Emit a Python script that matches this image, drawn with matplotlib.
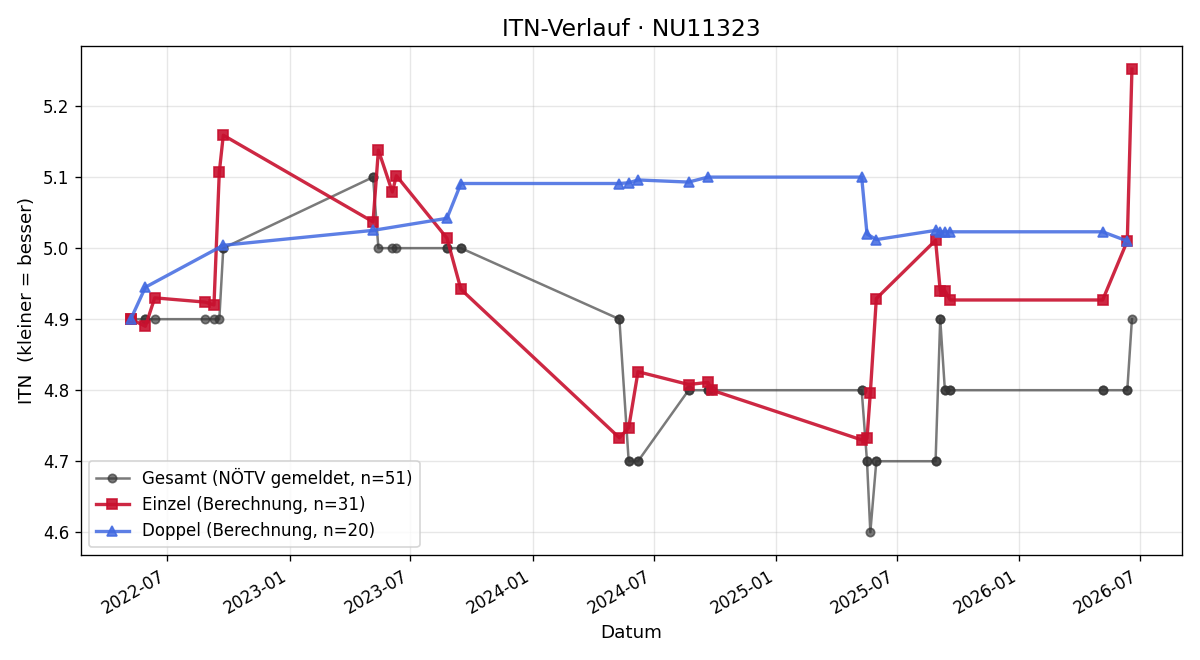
import numpy as np
import pandas as pd
import matplotlib
matplotlib.use('Agg')
import matplotlib.pyplot as plt
import matplotlib.dates as mdates

# Einzel (singles) ITN calculation
einzel_dates = ['2022-05-07', '2022-05-07', '2022-05-29', '2022-06-12', '2022-08-27',
                '2022-09-09', '2022-09-17', '2022-09-23', '2023-05-06', '2023-05-14',
                '2023-06-04', '2023-06-10', '2023-08-25', '2023-09-15', '2024-05-10',
                '2024-05-24', '2024-06-07', '2024-08-22', '2024-09-20', '2024-09-26',
                '2025-05-09', '2025-05-17', '2025-05-22', '2025-05-31', '2025-08-28',
                '2025-09-04', '2025-09-11', '2025-09-19', '2026-05-06', '2026-06-12',
                '2026-06-19']
einzel_itn = [4.900, 4.900, 4.890, 4.930, 4.924,
              4.920, 5.107, 5.159, 5.037, 5.138,
              5.079, 5.102, 5.014, 4.942, 4.733,
              4.747, 4.826, 4.808, 4.811, 4.800,
              4.730, 4.732, 4.796, 4.929, 5.011,
              4.940, 4.940, 4.927, 4.927, 5.010,
              5.252]

# Doppel (doubles) ITN calculation
doppel_dates = ['2022-05-07', '2022-05-29', '2022-09-23', '2023-05-06', '2023-08-25',
                '2023-09-15', '2024-05-10', '2024-05-24', '2024-06-07', '2024-08-22',
                '2024-09-20', '2025-05-09', '2025-05-17', '2025-05-31', '2025-08-28',
                '2025-09-04', '2025-09-11', '2025-09-19', '2026-05-06', '2026-06-12']
doppel_itn = [4.900, 4.945, 5.004, 5.025, 5.042,
              5.091, 5.091, 5.092, 5.096, 5.093,
              5.100, 5.100, 5.020, 5.012, 5.025,
              5.023, 5.023, 5.023, 5.023, 5.010]

# Gesamt: reported ITN at every match date (singles + doubles)
gesamt_dates = sorted(einzel_dates + doppel_dates)
gesamt_itn = [4.9, 4.9, 4.9, 4.9, 4.9, 4.9, 4.9, 4.9, 4.9,
              5.0, 5.0,
              5.1, 5.1,
              5.0, 5.0, 5.0,
              5.0, 5.0, 5.0, 5.0,
              4.9, 4.9,
              4.7, 4.7, 4.7, 4.7,
              4.8, 4.8, 4.8, 4.8, 4.8,
              4.8, 4.8,
              4.7, 4.7,
              4.6,
              4.7, 4.7,
              4.7, 4.7,
              4.9, 4.9,
              4.8, 4.8, 4.8, 4.8, 4.8, 4.8, 4.8, 4.8,
              4.9]

ge = pd.to_datetime(gesamt_dates)
ei = pd.to_datetime(einzel_dates)
do = pd.to_datetime(doppel_dates)

fig, ax = plt.subplots(figsize=(10, 5.5), dpi=120)

ax.plot(ge, gesamt_itn, color='#333333', alpha=0.65, marker='o', markersize=5,
        linewidth=1.5, label=f'Gesamt (NÖTV gemeldet, n={len(gesamt_itn)})')
ax.plot(ei, einzel_itn, color='#C8102E', alpha=0.9, marker='s', markersize=6,
        linewidth=2, label=f'Einzel (Berechnung, n={len(einzel_itn)})')
ax.plot(do, doppel_itn, color='#4169E1', alpha=0.85, marker='^', markersize=6,
        linewidth=2, label=f'Doppel (Berechnung, n={len(doppel_itn)})')

ax.set_title('ITN-Verlauf · NU11323', fontsize=14)
ax.set_xlabel('Datum', fontsize=11)
ax.set_ylabel('ITN  (kleiner = besser)', fontsize=11)
ax.grid(True, alpha=0.3)
ax.legend(loc='lower left')

ax.xaxis.set_major_locator(mdates.MonthLocator(bymonth=[1, 7]))
ax.xaxis.set_major_formatter(mdates.DateFormatter('%Y-%m'))
fig.autofmt_xdate()

plt.tight_layout()
plt.savefig('out.png')
